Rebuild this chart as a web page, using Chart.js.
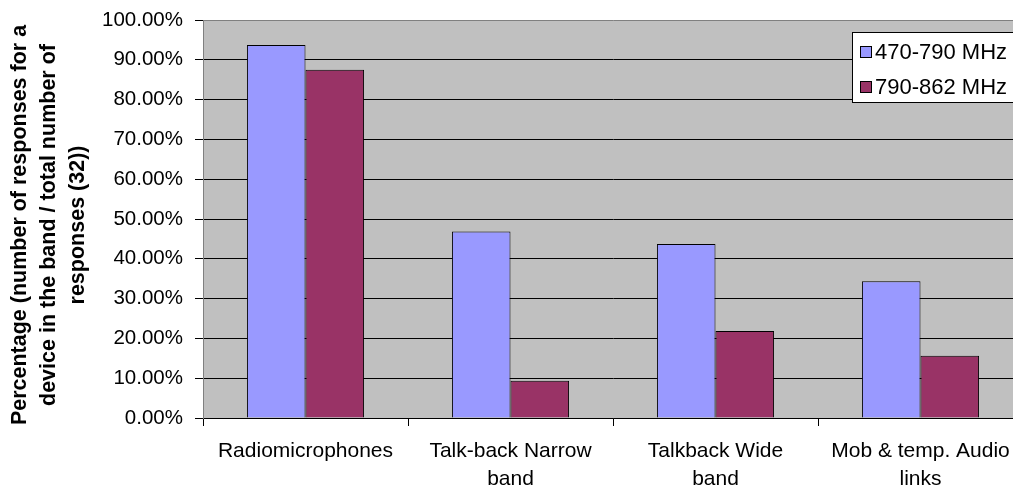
<!DOCTYPE html>
<html>
<head>
<meta charset="utf-8">
<script src="https://cdn.jsdelivr.net/npm/chart.js@4.4.0/dist/chart.umd.min.js"></script>
<style>
  html, body { margin: 0; padding: 0; background: #fff; overflow: hidden; }
  #wrap { position: relative; width: 1030px; height: 488px; }
</style>
</head>
<body>
<div id="wrap"><canvas id="c"></canvas></div>
<script>
const categories = [
  "Radiomicrophones",
  ["Talk-back Narrow", "band"],
  ["Talkback Wide", "band"],
  ["Mob & temp. Audio", "links"]
];
const seriesNames = ["470-790 MHz", "790-862 MHz"];
const series470 = [93.75, 46.875, 43.75, 34.375];
const series790 = [87.5, 9.375, 21.875, 15.625];
const yTitle = [
  "Percentage (number of responses for a",
  "device in the band / total number of",
  "responses (32))"
];

const FONT = '"Liberation Sans", Arial, Helvetica, sans-serif';

const plotBg = {
  id: 'plotBg',
  beforeDraw(chart) {
    const a = chart.chartArea, ctx = chart.ctx;
    ctx.save();
    ctx.fillStyle = '#C0C0C0';
    ctx.fillRect(a.left, a.top, a.right - a.left, a.bottom - a.top);
    ctx.restore();
  }
};

const axisTitle = {
  id: 'axisTitle',
  afterDraw(chart) {
    const ctx = chart.ctx;
    const a = chart.chartArea;
    ctx.save();
    ctx.font = 'bold 21.5px ' + FONT;
    ctx.fillStyle = '#000';
    ctx.textAlign = 'center';
    ctx.textBaseline = 'middle';
    ctx.translate(20, (a.top + a.bottom) / 2 + 6);
    ctx.rotate(-Math.PI / 2);
    yTitle.forEach((line, i) => ctx.fillText(line, 0, i * 29));
    ctx.restore();
  }
};

const boxLegend = {
  id: 'boxLegend',
  afterDraw(chart) {
    const ctx = chart.ctx;
    const x0 = 852.5, y0 = 32.5, w = 200, h = 70;
    ctx.save();
    ctx.fillStyle = '#fff';
    ctx.strokeStyle = '#000';
    ctx.lineWidth = 1;
    ctx.fillRect(x0, y0, w, h);
    ctx.strokeRect(x0, y0, w, h);
    ctx.font = '22px ' + FONT;
    ctx.textBaseline = 'middle';
    ctx.textAlign = 'left';
    chart.data.datasets.forEach((ds, i) => {
      const cy = 52 + i * 35;
      ctx.fillStyle = ds.backgroundColor;
      ctx.fillRect(860.5, cy - 5.5, 11, 11);
      ctx.strokeRect(860.5, cy - 5.5, 11, 11);
      ctx.fillStyle = '#000';
      ctx.fillText(ds.label, 875, cy + 1);
    });
    ctx.restore();
  }
};

new Chart(document.getElementById('c'), {
  type: 'bar',
  data: {
    labels: categories,
    datasets: [
      { label: seriesNames[0], data: series470, backgroundColor: '#9999FF', borderColor: '#000', borderWidth: 1 },
      { label: seriesNames[1], data: series790, backgroundColor: '#993366', borderColor: '#000', borderWidth: 1 }
    ]
  },
  options: {
    responsive: true,
    maintainAspectRatio: false,
    animation: false,
    devicePixelRatio: 1,
    layout: { padding: { left: 0, top: 20, right: 7, bottom: 0 } },
    datasets: { bar: { categoryPercentage: 2 / 3.5, barPercentage: 1 } },
    plugins: { legend: { display: false }, tooltip: { enabled: false } },
    scales: {
      x: {
        afterFit(s) { s.height = 70; },
        grid: { drawOnChartArea: false, drawTicks: true, tickLength: 8, color: '#000', offset: true },
        border: { color: '#000', width: 1 },
        ticks: { color: '#000', font: { family: FONT, size: 21, lineHeight: 1.3 }, padding: 12, maxRotation: 0, autoSkip: false }
      },
      y: {
        min: 0, max: 100,
        afterFit(s) { s.width = 203; s.paddingTop = 10; s.paddingBottom = 10; },
        grid: {
          color: ctx => (ctx.tick && ctx.tick.value === 100) ? '#808080' : '#000',
          tickColor: '#000',
          tickLength: 8
        },
        border: { color: '#808080', width: 1 },
        ticks: {
          stepSize: 10, color: '#000', padding: 12,
          font: { family: FONT, size: 20.5 },
          callback: v => v.toFixed(2) + '%'
        },
        title: { display: false }
      }
    }
  },
  plugins: [plotBg, axisTitle, boxLegend]
});
</script>
</body>
</html>
